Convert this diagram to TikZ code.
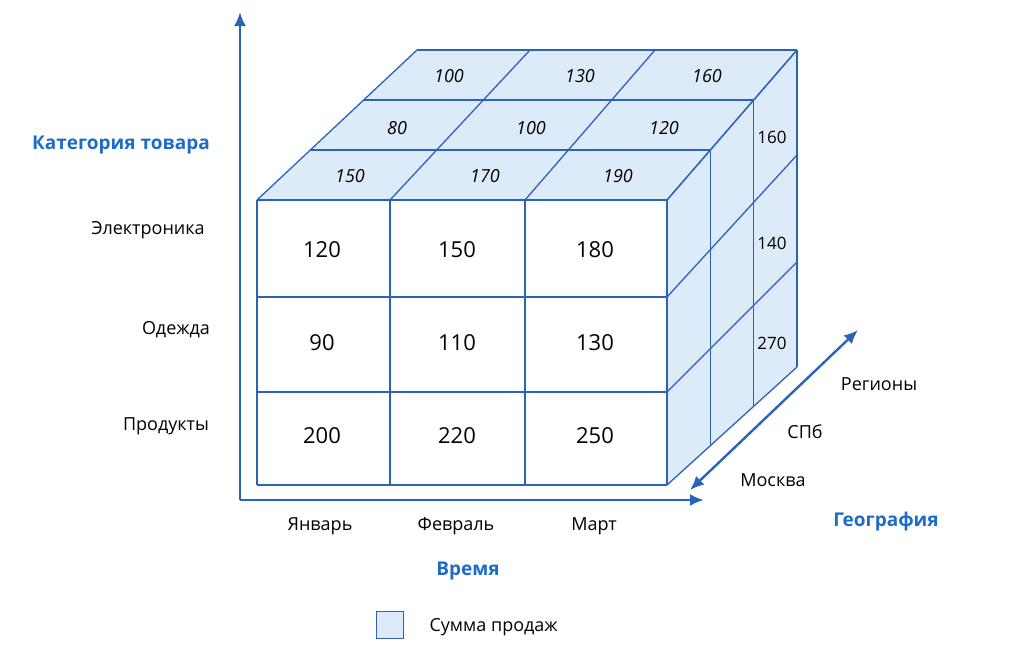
\documentclass[tikz,border=0pt]{standalone}
\usepackage{fontspec}
\setmainfont{Open Sans}
\usetikzlibrary{calc,arrows.meta}
\definecolor{ln}{HTML}{2A64B8}
\definecolor{fl}{HTML}{DDEAF9}
\definecolor{ttl}{HTML}{1E6CC8}
\begin{document}
\begin{tikzpicture}[x=1pt,y=-1pt,
  edge/.style={draw=ln,line width=1.3pt},
  num/.style={font=\fontsize{22}{24}\selectfont},
  tnum/.style={font=\fontsize{18}{20}\selectfont\itshape},
  rnum/.style={font=\fontsize{17}{19}\selectfont},
  lbl/.style={font=\fontsize{18}{20}\selectfont},
  ttlab/.style={font=\fontsize{19}{22}\selectfont\bfseries,text=ttl},
  axis/.style={draw=ln,line width=2.4pt,-{Latex[length=14pt,width=12pt]}}]
\useasboundingbox (0,0) rectangle (1024,653);
\coordinate (F0) at (257,200); \coordinate (F1) at (390,200);
\coordinate (F2) at (525,200); \coordinate (F3) at (667,200);
\coordinate (B0) at (417,50); \coordinate (B1) at (530,50);
\coordinate (B2) at (655,50); \coordinate (B3) at (797,50);
\coordinate (G0) at (667,200); \coordinate (G1) at (667,297);
\coordinate (G2) at (667,392); \coordinate (G3) at (667,485);
\coordinate (H0) at (797,50); \coordinate (H1) at (797,155);
\coordinate (H2) at (797,262); \coordinate (H3) at (797,367);
\fill[fl] (F0)--(F3)--(B3)--(B0)--cycle;
\fill[fl] (G0)--(H0)--(H3)--(G3)--cycle;
\foreach \i in {0,1,2,3}{\draw[edge] (F\i)--(B\i);}
\foreach \t in {0,1,2,3}{\draw[edge] ($(F0)!\t/3!(B0)$)--($(F3)!\t/3!(B3)$);}
\foreach \i in {0,1,2,3}{\draw[edge] (G\i)--(H\i);}
\foreach \t in {0,1,2,3}{\draw[edge] ($(G0)!\t/3!(H0)$)--($(G3)!\t/3!(H3)$);}
\fill[white] (257,200) rectangle (667,485);
\foreach \x in {257,390,525,667}{\draw[edge] (\x,200)--(\x,485);}
\foreach \y in {200,297,392,485}{\draw[edge] (257,\y)--(667,\y);}
\node[num] (c11) at (322,250) {120}; \node[num] (c12) at (457,250) {150}; \node[num] (c13) at (595,250) {180};
\node[num] (c21) at (322,343) {90}; \node[num] (c22) at (457,343) {110}; \node[num] (c23) at (595,343) {130};
\node[num] (c31) at (322,436) {200}; \node[num] (c32) at (457,436) {220}; \node[num] (c33) at (595,436) {250};
\node[tnum] (t11) at (350,176) {150}; \node[tnum] (t12) at (485,176) {170}; \node[tnum] (t13) at (618,176) {190};
\node[tnum] (t21) at (397,128) {80}; \node[tnum] (t22) at (531,128) {100}; \node[tnum] (t23) at (664,128) {120};
\node[tnum] (t31) at (449,76) {100}; \node[tnum] (t32) at (580,76) {130}; \node[tnum] (t33) at (707,76) {160};
\node[rnum] (r1) at (772,137) {160}; \node[rnum] (r2) at (772,243) {140}; \node[rnum] (r3) at (772,343) {270};
\coordinate (O) at (240,500); \coordinate (Ytop) at (240,12);
\coordinate (Xend) at (704,500);
\coordinate (Ds) at (690,490); \coordinate (De) at (858,330);
\draw[axis] (O)--(Ytop);
\draw[axis] (O)--(Xend);
\draw[axis,{Latex[length=14pt,width=12pt]}-{Latex[length=14pt,width=12pt]}] (Ds)--(De);
\node[ttlab] (ycat) at (121,145) {Категория товара};
\node[lbl] (l1) at (148,230) {Электроника};
\node[lbl] (l2) at (176,330) {Одежда};
\node[lbl] (l3) at (166,426) {Продукты};
\node[lbl] (m1) at (320,526) {Январь};
\node[lbl] (m2) at (456,526) {Февраль};
\node[lbl] (m3) at (594,526) {Март};
\node[ttlab] (xt) at (468,571) {Время};
\node[ttlab] (gt) at (886,522) {География};
\node[lbl] (g1) at (773,480) {Москва};
\node[lbl] (g2) at (805,432) {СПб};
\node[lbl] (g3) at (879,384) {Регионы};
\node[draw=ln,fill=fl,line width=1pt,minimum size=27pt,inner sep=0pt] (leg) at (390,625) {};
\node[lbl,anchor=west] (legt) at (426,627) {Сумма продаж};
\end{tikzpicture}
\end{document}
